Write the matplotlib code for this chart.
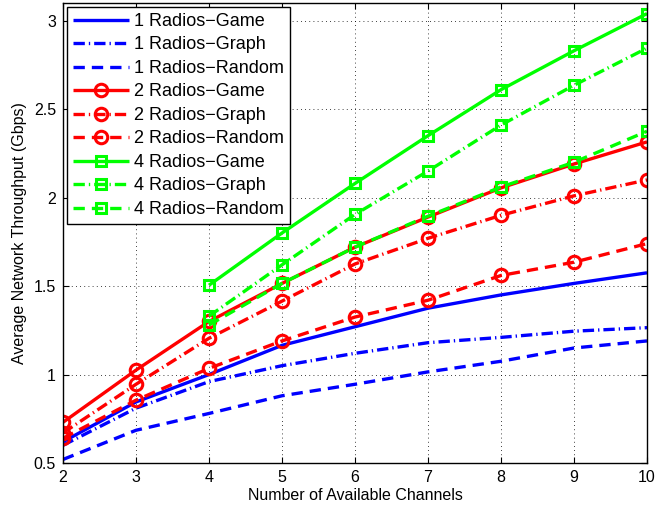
import matplotlib
matplotlib.use("Agg")
import matplotlib.pyplot as plt

plt.rcParams['font.family'] = ['Liberation Sans', 'DejaVu Sans']

channels = [2, 3, 4, 5, 6, 7, 8, 9, 10]
channels4 = [4, 5, 6, 7, 8, 9, 10]

r1_game = [0.62, 0.845, 1.0, 1.165, 1.27, 1.375, 1.45, 1.515, 1.575]
r1_graph = [0.60, 0.81, 0.96, 1.05, 1.12, 1.18, 1.21, 1.245, 1.265]
r1_random = [0.52, 0.685, 0.78, 0.88, 0.945, 1.015, 1.075, 1.15, 1.19]

r2_game = [0.73, 1.025, 1.30, 1.515, 1.72, 1.89, 2.055, 2.19, 2.315]
r2_graph = [0.67, 0.945, 1.205, 1.415, 1.625, 1.77, 1.90, 2.01, 2.10]
r2_random = [0.64, 0.855, 1.035, 1.19, 1.325, 1.42, 1.56, 1.635, 1.74]

r4_game = [1.505, 1.80, 2.08, 2.35, 2.61, 2.83, 3.04]
r4_graph = [1.33, 1.62, 1.905, 2.15, 2.41, 2.635, 2.845]
r4_random = [1.28, 1.515, 1.72, 1.895, 2.06, 2.20, 2.375]

labels = ['1 Radios\u2212Game', '1 Radios\u2212Graph', '1 Radios\u2212Random',
          '2 Radios\u2212Game', '2 Radios\u2212Graph', '2 Radios\u2212Random',
          '4 Radios\u2212Game', '4 Radios\u2212Graph', '4 Radios\u2212Random']

fig = plt.figure(figsize=(6.57, 5.15), dpi=100)
ax = fig.add_axes([63/657, 1 - 463/515, 584/657, 460/515])

lw = 2.4
solid = (0, ())
dashed = (0, (3.4, 2.1))
dashdot = (0, (3.4, 1.2, 0.4, 1.2))

blue = (0, 0, 1)
red = (1, 0, 0)
green = (0, 1, 0)

ax.plot(channels, r1_game, color=blue, lw=lw, linestyle=solid, label=labels[0])
ax.plot(channels, r1_graph, color=blue, lw=lw, linestyle=dashdot, label=labels[1])
ax.plot(channels, r1_random, color=blue, lw=lw, linestyle=dashed, label=labels[2])

mk = dict(markersize=9, markerfacecolor='none', markeredgewidth=2.2)
ax.plot(channels, r2_game, color=red, lw=lw, linestyle=solid, marker='o', label=labels[3], **mk)
ax.plot(channels, r2_graph, color=red, lw=lw, linestyle=dashdot, marker='o', label=labels[4], **mk)
ax.plot(channels, r2_random, color=red, lw=lw, linestyle=dashed, marker='o', label=labels[5], **mk)

mks = dict(markersize=7.5, markerfacecolor='none', markeredgewidth=2.2)
ax.plot(channels4, r4_game, color=green, lw=lw, linestyle=solid, marker='s', label=labels[6], **mks)
ax.plot(channels4, r4_graph, color=green, lw=lw, linestyle=dashdot, marker='s', label=labels[7], **mks)
ax.plot(channels4, r4_random, color=green, lw=lw, linestyle=dashed, marker='s', label=labels[8], **mks)

ax.set_xlim(2, 10)
ax.set_ylim(0.5, 3.1)
ax.set_xticks(channels)
ax.set_yticks([0.5, 1, 1.5, 2, 2.5, 3])
ax.set_yticklabels(['0.5', '1', '1.5', '2', '2.5', '3'])
ax.tick_params(direction='in', top=True, right=True, labelsize=11.5, length=4, width=0.8, pad=5)
ax.grid(True, color='black', linestyle=(0, (1, 4)), linewidth=0.6)
for s in ax.spines.values():
    s.set_linewidth(1.0)

ax.set_xlabel('Number of Available Channels', fontsize=11.5, labelpad=2)
ax.set_ylabel('Average Network Throughput (Gbps)', fontsize=11.5, labelpad=5)

leg = ax.legend(loc='upper left', fontsize=13, fancybox=False, framealpha=1,
                edgecolor='black', handlelength=3.1, borderaxespad=0.2,
                labelspacing=0.36, handletextpad=0.28, borderpad=0.35)
leg.get_frame().set_linewidth(1.0)

fig.savefig('out.png', dpi=100)
